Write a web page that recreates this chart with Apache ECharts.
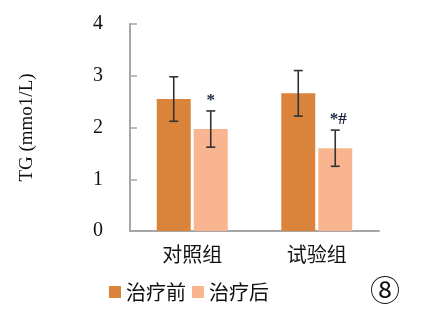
<!DOCTYPE html>
<html>
<head>
<meta charset="utf-8">
<script src="https://cdn.jsdelivr.net/npm/echarts@6/dist/echarts.min.js"></script>
<style>
  html, body { margin: 0; padding: 0; background: #fff; }
  #chart { width: 431px; height: 325px; }
</style>
</head>
<body>
<div id="chart"></div>
<script>
// Groups and TG values (mmol/L), mean ± SD
const categories = ['对照组', '试验组'];
const seriesNames = ['治疗前', '治疗后'];
const beforeMean = [2.55, 2.66];
const beforeSD = [0.43, 0.44];
const afterMean = [1.97, 1.60];
const afterSD = [0.35, 0.35];
const afterMarks = ['*', '*#'];
const yTicks = [0, 1, 2, 3, 4];

const colors = ['#D9843A', '#F8B58F'];
const BAR_W = 34;
const BAR_GAP = 3;
const serif = '"Liberation Serif", "DejaVu Serif", serif';
const cjk = '"Noto Sans CJK SC", sans-serif';

function errorSeries(means, sds, marks, side) {
  return {
    type: 'custom',
    z: 5,
    data: means.map((m, i) => [i, m, sds[i], marks ? marks[i] : '']),
    renderItem: function (params, api) {
      const idx = api.value(0);
      const mean = api.value(1);
      const sd = api.value(2);
      const hi = api.coord([idx, mean + sd]);
      const lo = api.coord([idx, mean - sd]);
      const x = hi[0] + side * (BAR_W + BAR_GAP) / 2;
      const cap = 4.5;
      const style = { stroke: '#333', lineWidth: 1.6 };
      const children = [
        { type: 'line', shape: { x1: x, y1: hi[1], x2: x, y2: lo[1] }, style },
        { type: 'line', shape: { x1: x - cap, y1: hi[1], x2: x + cap, y2: hi[1] }, style },
        { type: 'line', shape: { x1: x - cap, y1: lo[1], x2: x + cap, y2: lo[1] }, style }
      ];
      const mark = marks ? marks[params.dataIndex] : '';
      if (mark) {
        children.push({
          type: 'text',
          style: {
            text: mark, x: x + (mark.length > 1 ? 3 : 0), y: hi[1] - 2,
            align: 'center', verticalAlign: 'bottom',
            font: 'bold 17px ' + serif, fill: '#1b2540'
          }
        });
      }
      return { type: 'group', children };
    }
  };
}

const chart = echarts.init(document.getElementById('chart'));
chart.setOption({
  animation: false,
  backgroundColor: '#fff',
  grid: { left: 130, right: 52, top: 24, bottom: 94 },
  legend: {
    data: seriesNames,
    left: 104, top: 277,
    icon: 'rect', itemWidth: 12, itemHeight: 12, itemGap: 6,
    textStyle: { fontFamily: cjk, fontSize: 20, color: '#111' }
  },
  xAxis: {
    type: 'category',
    data: categories,
    axisLine: { lineStyle: { color: '#A6A6A6', width: 2 } },
    axisTick: { show: false },
    axisLabel: { fontFamily: cjk, fontSize: 20, color: '#111', margin: 13 }
  },
  yAxis: {
    type: 'value',
    min: yTicks[0], max: yTicks[yTicks.length - 1], interval: 1,
    name: 'TG (mmo1/L)',
    nameLocation: 'middle', nameGap: 93, nameRotate: 90,
    nameTextStyle: { fontFamily: serif, fontSize: 19, color: '#111' },
    axisLine: { show: true, lineStyle: { color: '#A6A6A6', width: 2 } },
    axisTick: { show: true, inside: true, length: 7, lineStyle: { color: '#A6A6A6', width: 1.5 } },
    splitLine: { show: false },
    axisLabel: { fontFamily: serif, fontSize: 20, color: '#111', margin: 27 }
  },
  series: [
    { name: seriesNames[0], type: 'bar', data: beforeMean, barWidth: BAR_W,
      barGap: (BAR_GAP / BAR_W * 100).toFixed(1) + '%', itemStyle: { color: colors[0] } },
    { name: seriesNames[1], type: 'bar', data: afterMean, barWidth: BAR_W,
      itemStyle: { color: colors[1] } },
    errorSeries(beforeMean, beforeSD, null, -1),
    errorSeries(afterMean, afterSD, afterMarks, 1)
  ],
  graphic: [{
    type: 'text', left: 370, top: 275,
    style: { text: '⑧', font: '30px "Noto Sans CJK SC", sans-serif', fill: '#111' }
  }]
});
</script>
</body>
</html>
